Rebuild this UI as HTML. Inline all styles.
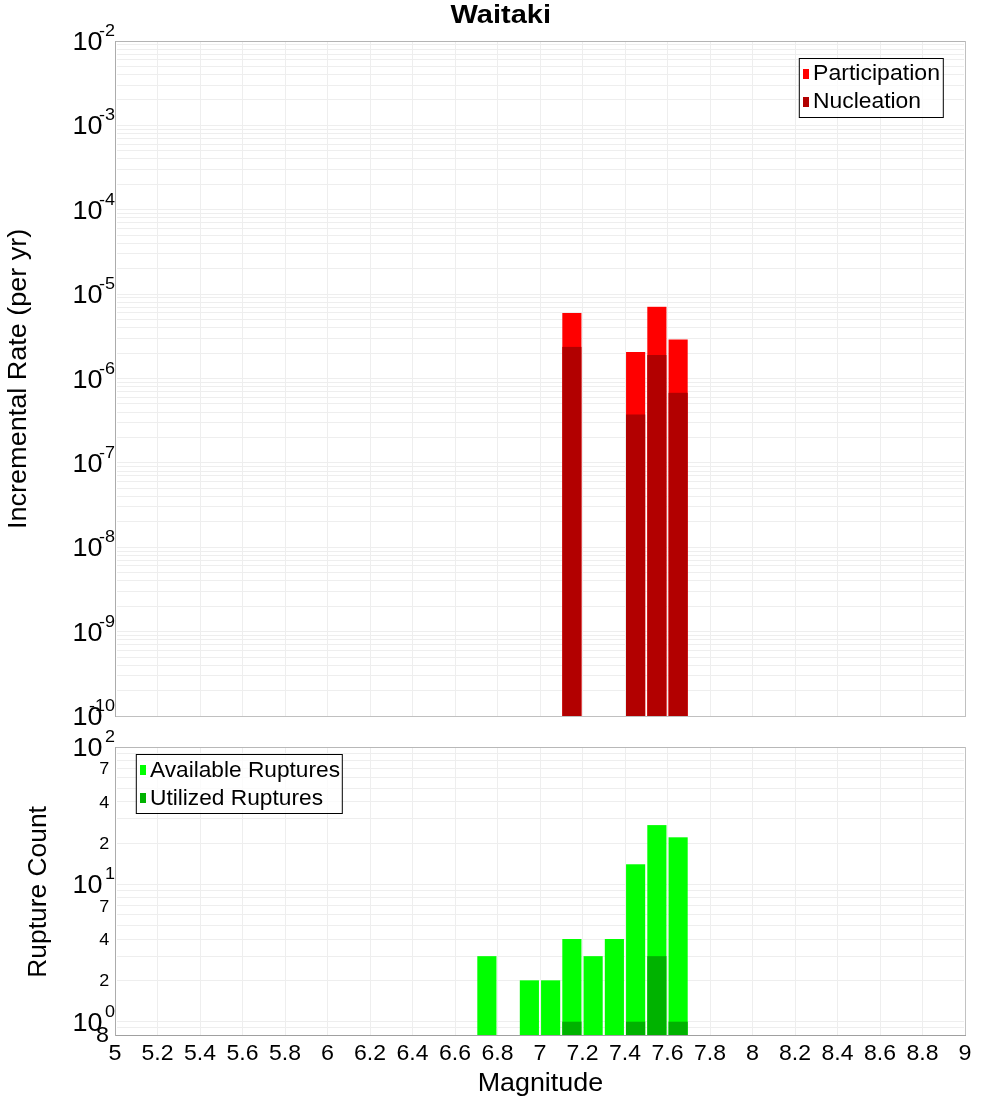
<!DOCTYPE html>
<html><head><meta charset="utf-8"><title>Waitaki</title>
<style>
html,body{margin:0;padding:0;background:#fff;}
body{width:1000px;height:1100px;overflow:hidden;}
svg{display:block;font-family:"Liberation Sans", sans-serif;will-change:transform;}
</style></head>
<body>
<svg width="1000" height="1100" viewBox="0 0 1000 1100">
<rect x="0" y="0" width="1000" height="1100" fill="#fff"/>
<line x1="117" y1="690.5" x2="964" y2="690.5" stroke="#eeeeee" stroke-width="1"/>
<line x1="117" y1="675.5" x2="964" y2="675.5" stroke="#eeeeee" stroke-width="1"/>
<line x1="117" y1="665.5" x2="964" y2="665.5" stroke="#eeeeee" stroke-width="1"/>
<line x1="117" y1="657.5" x2="964" y2="657.5" stroke="#eeeeee" stroke-width="1"/>
<line x1="117" y1="650.5" x2="964" y2="650.5" stroke="#eeeeee" stroke-width="1"/>
<line x1="117" y1="644.5" x2="964" y2="644.5" stroke="#eeeeee" stroke-width="1"/>
<line x1="117" y1="639.5" x2="964" y2="639.5" stroke="#eeeeee" stroke-width="1"/>
<line x1="117" y1="635.5" x2="964" y2="635.5" stroke="#eeeeee" stroke-width="1"/>
<line x1="117" y1="631.5" x2="964" y2="631.5" stroke="#eeeeee" stroke-width="1"/>
<line x1="117" y1="606.5" x2="964" y2="606.5" stroke="#eeeeee" stroke-width="1"/>
<line x1="117" y1="591.5" x2="964" y2="591.5" stroke="#eeeeee" stroke-width="1"/>
<line x1="117" y1="580.5" x2="964" y2="580.5" stroke="#eeeeee" stroke-width="1"/>
<line x1="117" y1="572.5" x2="964" y2="572.5" stroke="#eeeeee" stroke-width="1"/>
<line x1="117" y1="565.5" x2="964" y2="565.5" stroke="#eeeeee" stroke-width="1"/>
<line x1="117" y1="560.5" x2="964" y2="560.5" stroke="#eeeeee" stroke-width="1"/>
<line x1="117" y1="555.5" x2="964" y2="555.5" stroke="#eeeeee" stroke-width="1"/>
<line x1="117" y1="551.5" x2="964" y2="551.5" stroke="#eeeeee" stroke-width="1"/>
<line x1="117" y1="547.5" x2="964" y2="547.5" stroke="#eeeeee" stroke-width="1"/>
<line x1="117" y1="521.5" x2="964" y2="521.5" stroke="#eeeeee" stroke-width="1"/>
<line x1="117" y1="506.5" x2="964" y2="506.5" stroke="#eeeeee" stroke-width="1"/>
<line x1="117" y1="496.5" x2="964" y2="496.5" stroke="#eeeeee" stroke-width="1"/>
<line x1="117" y1="488.5" x2="964" y2="488.5" stroke="#eeeeee" stroke-width="1"/>
<line x1="117" y1="481.5" x2="964" y2="481.5" stroke="#eeeeee" stroke-width="1"/>
<line x1="117" y1="475.5" x2="964" y2="475.5" stroke="#eeeeee" stroke-width="1"/>
<line x1="117" y1="471.5" x2="964" y2="471.5" stroke="#eeeeee" stroke-width="1"/>
<line x1="117" y1="466.5" x2="964" y2="466.5" stroke="#eeeeee" stroke-width="1"/>
<line x1="117" y1="462.5" x2="964" y2="462.5" stroke="#eeeeee" stroke-width="1"/>
<line x1="117" y1="437.5" x2="964" y2="437.5" stroke="#eeeeee" stroke-width="1"/>
<line x1="117" y1="422.5" x2="964" y2="422.5" stroke="#eeeeee" stroke-width="1"/>
<line x1="117" y1="412.5" x2="964" y2="412.5" stroke="#eeeeee" stroke-width="1"/>
<line x1="117" y1="403.5" x2="964" y2="403.5" stroke="#eeeeee" stroke-width="1"/>
<line x1="117" y1="397.5" x2="964" y2="397.5" stroke="#eeeeee" stroke-width="1"/>
<line x1="117" y1="391.5" x2="964" y2="391.5" stroke="#eeeeee" stroke-width="1"/>
<line x1="117" y1="386.5" x2="964" y2="386.5" stroke="#eeeeee" stroke-width="1"/>
<line x1="117" y1="382.5" x2="964" y2="382.5" stroke="#eeeeee" stroke-width="1"/>
<line x1="117" y1="378.5" x2="964" y2="378.5" stroke="#eeeeee" stroke-width="1"/>
<line x1="117" y1="353.5" x2="964" y2="353.5" stroke="#eeeeee" stroke-width="1"/>
<line x1="117" y1="338.5" x2="964" y2="338.5" stroke="#eeeeee" stroke-width="1"/>
<line x1="117" y1="327.5" x2="964" y2="327.5" stroke="#eeeeee" stroke-width="1"/>
<line x1="117" y1="319.5" x2="964" y2="319.5" stroke="#eeeeee" stroke-width="1"/>
<line x1="117" y1="312.5" x2="964" y2="312.5" stroke="#eeeeee" stroke-width="1"/>
<line x1="117" y1="307.5" x2="964" y2="307.5" stroke="#eeeeee" stroke-width="1"/>
<line x1="117" y1="302.5" x2="964" y2="302.5" stroke="#eeeeee" stroke-width="1"/>
<line x1="117" y1="297.5" x2="964" y2="297.5" stroke="#eeeeee" stroke-width="1"/>
<line x1="117" y1="294.5" x2="964" y2="294.5" stroke="#eeeeee" stroke-width="1"/>
<line x1="117" y1="268.5" x2="964" y2="268.5" stroke="#eeeeee" stroke-width="1"/>
<line x1="117" y1="253.5" x2="964" y2="253.5" stroke="#eeeeee" stroke-width="1"/>
<line x1="117" y1="243.5" x2="964" y2="243.5" stroke="#eeeeee" stroke-width="1"/>
<line x1="117" y1="235.5" x2="964" y2="235.5" stroke="#eeeeee" stroke-width="1"/>
<line x1="117" y1="228.5" x2="964" y2="228.5" stroke="#eeeeee" stroke-width="1"/>
<line x1="117" y1="222.5" x2="964" y2="222.5" stroke="#eeeeee" stroke-width="1"/>
<line x1="117" y1="217.5" x2="964" y2="217.5" stroke="#eeeeee" stroke-width="1"/>
<line x1="117" y1="213.5" x2="964" y2="213.5" stroke="#eeeeee" stroke-width="1"/>
<line x1="117" y1="209.5" x2="964" y2="209.5" stroke="#eeeeee" stroke-width="1"/>
<line x1="117" y1="184.5" x2="964" y2="184.5" stroke="#eeeeee" stroke-width="1"/>
<line x1="117" y1="169.5" x2="964" y2="169.5" stroke="#eeeeee" stroke-width="1"/>
<line x1="117" y1="158.5" x2="964" y2="158.5" stroke="#eeeeee" stroke-width="1"/>
<line x1="117" y1="150.5" x2="964" y2="150.5" stroke="#eeeeee" stroke-width="1"/>
<line x1="117" y1="144.5" x2="964" y2="144.5" stroke="#eeeeee" stroke-width="1"/>
<line x1="117" y1="138.5" x2="964" y2="138.5" stroke="#eeeeee" stroke-width="1"/>
<line x1="117" y1="133.5" x2="964" y2="133.5" stroke="#eeeeee" stroke-width="1"/>
<line x1="117" y1="129.5" x2="964" y2="129.5" stroke="#eeeeee" stroke-width="1"/>
<line x1="117" y1="125.5" x2="964" y2="125.5" stroke="#eeeeee" stroke-width="1"/>
<line x1="117" y1="99.5" x2="964" y2="99.5" stroke="#eeeeee" stroke-width="1"/>
<line x1="117" y1="85.5" x2="964" y2="85.5" stroke="#eeeeee" stroke-width="1"/>
<line x1="117" y1="74.5" x2="964" y2="74.5" stroke="#eeeeee" stroke-width="1"/>
<line x1="117" y1="66.5" x2="964" y2="66.5" stroke="#eeeeee" stroke-width="1"/>
<line x1="117" y1="59.5" x2="964" y2="59.5" stroke="#eeeeee" stroke-width="1"/>
<line x1="117" y1="54.5" x2="964" y2="54.5" stroke="#eeeeee" stroke-width="1"/>
<line x1="117" y1="49.5" x2="964" y2="49.5" stroke="#eeeeee" stroke-width="1"/>
<line x1="117" y1="44.5" x2="964" y2="44.5" stroke="#eeeeee" stroke-width="1"/>
<line x1="117" y1="1027.5" x2="964" y2="1027.5" stroke="#eeeeee" stroke-width="1"/>
<line x1="117" y1="1021.5" x2="964" y2="1021.5" stroke="#eeeeee" stroke-width="1"/>
<line x1="117" y1="980.5" x2="964" y2="980.5" stroke="#eeeeee" stroke-width="1"/>
<line x1="117" y1="956.5" x2="964" y2="956.5" stroke="#eeeeee" stroke-width="1"/>
<line x1="117" y1="939.5" x2="964" y2="939.5" stroke="#eeeeee" stroke-width="1"/>
<line x1="117" y1="925.5" x2="964" y2="925.5" stroke="#eeeeee" stroke-width="1"/>
<line x1="117" y1="914.5" x2="964" y2="914.5" stroke="#eeeeee" stroke-width="1"/>
<line x1="117" y1="905.5" x2="964" y2="905.5" stroke="#eeeeee" stroke-width="1"/>
<line x1="117" y1="897.5" x2="964" y2="897.5" stroke="#eeeeee" stroke-width="1"/>
<line x1="117" y1="890.5" x2="964" y2="890.5" stroke="#eeeeee" stroke-width="1"/>
<line x1="117" y1="884.5" x2="964" y2="884.5" stroke="#eeeeee" stroke-width="1"/>
<line x1="117" y1="843.5" x2="964" y2="843.5" stroke="#eeeeee" stroke-width="1"/>
<line x1="117" y1="818.5" x2="964" y2="818.5" stroke="#eeeeee" stroke-width="1"/>
<line x1="117" y1="801.5" x2="964" y2="801.5" stroke="#eeeeee" stroke-width="1"/>
<line x1="117" y1="788.5" x2="964" y2="788.5" stroke="#eeeeee" stroke-width="1"/>
<line x1="117" y1="777.5" x2="964" y2="777.5" stroke="#eeeeee" stroke-width="1"/>
<line x1="117" y1="768.5" x2="964" y2="768.5" stroke="#eeeeee" stroke-width="1"/>
<line x1="117" y1="760.5" x2="964" y2="760.5" stroke="#eeeeee" stroke-width="1"/>
<line x1="117" y1="753.5" x2="964" y2="753.5" stroke="#eeeeee" stroke-width="1"/>
<line x1="157.5" y1="42" x2="157.5" y2="716" stroke="#eeeeee" stroke-width="1"/>
<line x1="157.5" y1="748" x2="157.5" y2="1035" stroke="#eeeeee" stroke-width="1"/>
<line x1="200.5" y1="42" x2="200.5" y2="716" stroke="#eeeeee" stroke-width="1"/>
<line x1="200.5" y1="748" x2="200.5" y2="1035" stroke="#eeeeee" stroke-width="1"/>
<line x1="242.5" y1="42" x2="242.5" y2="716" stroke="#eeeeee" stroke-width="1"/>
<line x1="242.5" y1="748" x2="242.5" y2="1035" stroke="#eeeeee" stroke-width="1"/>
<line x1="285.5" y1="42" x2="285.5" y2="716" stroke="#eeeeee" stroke-width="1"/>
<line x1="285.5" y1="748" x2="285.5" y2="1035" stroke="#eeeeee" stroke-width="1"/>
<line x1="327.5" y1="42" x2="327.5" y2="716" stroke="#eeeeee" stroke-width="1"/>
<line x1="327.5" y1="748" x2="327.5" y2="1035" stroke="#eeeeee" stroke-width="1"/>
<line x1="370.5" y1="42" x2="370.5" y2="716" stroke="#eeeeee" stroke-width="1"/>
<line x1="370.5" y1="748" x2="370.5" y2="1035" stroke="#eeeeee" stroke-width="1"/>
<line x1="412.5" y1="42" x2="412.5" y2="716" stroke="#eeeeee" stroke-width="1"/>
<line x1="412.5" y1="748" x2="412.5" y2="1035" stroke="#eeeeee" stroke-width="1"/>
<line x1="455.5" y1="42" x2="455.5" y2="716" stroke="#eeeeee" stroke-width="1"/>
<line x1="455.5" y1="748" x2="455.5" y2="1035" stroke="#eeeeee" stroke-width="1"/>
<line x1="497.5" y1="42" x2="497.5" y2="716" stroke="#eeeeee" stroke-width="1"/>
<line x1="497.5" y1="748" x2="497.5" y2="1035" stroke="#eeeeee" stroke-width="1"/>
<line x1="540.5" y1="42" x2="540.5" y2="716" stroke="#eeeeee" stroke-width="1"/>
<line x1="540.5" y1="748" x2="540.5" y2="1035" stroke="#eeeeee" stroke-width="1"/>
<line x1="582.5" y1="42" x2="582.5" y2="716" stroke="#eeeeee" stroke-width="1"/>
<line x1="582.5" y1="748" x2="582.5" y2="1035" stroke="#eeeeee" stroke-width="1"/>
<line x1="625.5" y1="42" x2="625.5" y2="716" stroke="#eeeeee" stroke-width="1"/>
<line x1="625.5" y1="748" x2="625.5" y2="1035" stroke="#eeeeee" stroke-width="1"/>
<line x1="667.5" y1="42" x2="667.5" y2="716" stroke="#eeeeee" stroke-width="1"/>
<line x1="667.5" y1="748" x2="667.5" y2="1035" stroke="#eeeeee" stroke-width="1"/>
<line x1="710.5" y1="42" x2="710.5" y2="716" stroke="#eeeeee" stroke-width="1"/>
<line x1="710.5" y1="748" x2="710.5" y2="1035" stroke="#eeeeee" stroke-width="1"/>
<line x1="752.5" y1="42" x2="752.5" y2="716" stroke="#eeeeee" stroke-width="1"/>
<line x1="752.5" y1="748" x2="752.5" y2="1035" stroke="#eeeeee" stroke-width="1"/>
<line x1="795.5" y1="42" x2="795.5" y2="716" stroke="#eeeeee" stroke-width="1"/>
<line x1="795.5" y1="748" x2="795.5" y2="1035" stroke="#eeeeee" stroke-width="1"/>
<line x1="837.5" y1="42" x2="837.5" y2="716" stroke="#eeeeee" stroke-width="1"/>
<line x1="837.5" y1="748" x2="837.5" y2="1035" stroke="#eeeeee" stroke-width="1"/>
<line x1="880.5" y1="42" x2="880.5" y2="716" stroke="#eeeeee" stroke-width="1"/>
<line x1="880.5" y1="748" x2="880.5" y2="1035" stroke="#eeeeee" stroke-width="1"/>
<line x1="922.5" y1="42" x2="922.5" y2="716" stroke="#eeeeee" stroke-width="1"/>
<line x1="922.5" y1="748" x2="922.5" y2="1035" stroke="#eeeeee" stroke-width="1"/>
<rect x="562.31" y="313.00" width="19.13" height="403.00" fill="#ff0000"/>
<rect x="562.31" y="346.90" width="19.13" height="369.10" fill="#b20000"/>
<rect x="626.06" y="352.00" width="19.13" height="364.00" fill="#ff0000"/>
<rect x="626.06" y="414.50" width="19.13" height="301.50" fill="#b20000"/>
<rect x="647.31" y="306.80" width="19.13" height="409.20" fill="#ff0000"/>
<rect x="647.31" y="355.00" width="19.13" height="361.00" fill="#b20000"/>
<rect x="668.56" y="339.50" width="19.13" height="376.50" fill="#ff0000"/>
<rect x="668.56" y="392.80" width="19.13" height="323.20" fill="#b20000"/>
<rect x="477.31" y="956.16" width="19.13" height="78.84" fill="#00ff00"/>
<rect x="519.81" y="980.34" width="19.13" height="54.66" fill="#00ff00"/>
<rect x="541.06" y="980.34" width="19.13" height="54.66" fill="#00ff00"/>
<rect x="562.31" y="939.00" width="19.13" height="96.00" fill="#00ff00"/>
<rect x="583.56" y="956.16" width="19.13" height="78.84" fill="#00ff00"/>
<rect x="604.81" y="939.00" width="19.13" height="96.00" fill="#00ff00"/>
<rect x="626.06" y="864.28" width="19.13" height="170.72" fill="#00ff00"/>
<rect x="647.31" y="825.10" width="19.13" height="209.90" fill="#00ff00"/>
<rect x="668.56" y="837.31" width="19.13" height="197.69" fill="#00ff00"/>
<rect x="562.31" y="1021.69" width="19.13" height="13.31" fill="#00b200"/>
<rect x="626.06" y="1021.69" width="19.13" height="13.31" fill="#00b200"/>
<rect x="647.31" y="956.16" width="19.13" height="78.84" fill="#00b200"/>
<rect x="668.56" y="1021.69" width="19.13" height="13.31" fill="#00b200"/>
<line x1="115" y1="41.5" x2="966" y2="41.5" stroke="#b4b4b4"/>
<line x1="965.5" y1="41" x2="965.5" y2="717" stroke="#c0c0c0"/>
<line x1="115" y1="716.5" x2="966" y2="716.5" stroke="#c0c0c0"/>
<line x1="115.5" y1="41" x2="115.5" y2="717" stroke="#acacac"/>
<line x1="115" y1="747.5" x2="966" y2="747.5" stroke="#b8b8b8"/>
<line x1="965.5" y1="747" x2="965.5" y2="1036" stroke="#c2c2c2"/>
<line x1="115" y1="1035.5" x2="966" y2="1035.5" stroke="#a0a0a0"/>
<line x1="115.5" y1="747" x2="115.5" y2="1036" stroke="#acacac"/>
<rect x="799.3" y="58.5" width="144" height="59" fill="rgba(255,255,255,0.78)" stroke="#000" stroke-width="1"/>
<rect x="803" y="69" width="6" height="10" fill="#ff0000"/>
<text x="813.00" y="80.00" font-size="21.20" text-anchor="start" textLength="127.00" lengthAdjust="spacingAndGlyphs" fill="#000">Participation</text>
<rect x="803" y="97" width="6" height="10" fill="#b20000"/>
<text x="813.00" y="108.00" font-size="21.20" text-anchor="start" textLength="108.00" lengthAdjust="spacingAndGlyphs" fill="#000">Nucleation</text>
<rect x="136.3" y="754.5" width="206" height="59" fill="rgba(255,255,255,0.78)" stroke="#000" stroke-width="1"/>
<rect x="140" y="765" width="6" height="10" fill="#00ff00"/>
<text x="150.00" y="777.00" font-size="21.20" text-anchor="start" textLength="190.00" lengthAdjust="spacingAndGlyphs" fill="#000">Available Ruptures</text>
<rect x="140" y="793" width="6" height="10" fill="#00b200"/>
<text x="150.00" y="805.00" font-size="21.20" text-anchor="start" textLength="173.00" lengthAdjust="spacingAndGlyphs" fill="#000">Utilized Ruptures</text>
<text x="500.80" y="23.00" font-size="25.44" font-weight="bold" text-anchor="middle" textLength="100.50" lengthAdjust="spacingAndGlyphs" fill="#000">Waitaki</text>
<text x="72.40" y="50.00" font-size="25.44" text-anchor="start" textLength="30.00" lengthAdjust="spacingAndGlyphs" fill="#000">10</text>
<text x="115.00" y="36.00" font-size="16.96" text-anchor="end" textLength="16.00" lengthAdjust="spacingAndGlyphs" fill="#000">-2</text>
<text x="72.40" y="134.38" font-size="25.44" text-anchor="start" textLength="30.00" lengthAdjust="spacingAndGlyphs" fill="#000">10</text>
<text x="115.00" y="120.38" font-size="16.96" text-anchor="end" textLength="16.00" lengthAdjust="spacingAndGlyphs" fill="#000">-3</text>
<text x="72.40" y="218.75" font-size="25.44" text-anchor="start" textLength="30.00" lengthAdjust="spacingAndGlyphs" fill="#000">10</text>
<text x="115.00" y="204.75" font-size="16.96" text-anchor="end" textLength="16.00" lengthAdjust="spacingAndGlyphs" fill="#000">-4</text>
<text x="72.40" y="303.12" font-size="25.44" text-anchor="start" textLength="30.00" lengthAdjust="spacingAndGlyphs" fill="#000">10</text>
<text x="115.00" y="289.12" font-size="16.96" text-anchor="end" textLength="16.00" lengthAdjust="spacingAndGlyphs" fill="#000">-5</text>
<text x="72.40" y="387.50" font-size="25.44" text-anchor="start" textLength="30.00" lengthAdjust="spacingAndGlyphs" fill="#000">10</text>
<text x="115.00" y="373.50" font-size="16.96" text-anchor="end" textLength="16.00" lengthAdjust="spacingAndGlyphs" fill="#000">-6</text>
<text x="72.40" y="471.88" font-size="25.44" text-anchor="start" textLength="30.00" lengthAdjust="spacingAndGlyphs" fill="#000">10</text>
<text x="115.00" y="457.88" font-size="16.96" text-anchor="end" textLength="16.00" lengthAdjust="spacingAndGlyphs" fill="#000">-7</text>
<text x="72.40" y="556.25" font-size="25.44" text-anchor="start" textLength="30.00" lengthAdjust="spacingAndGlyphs" fill="#000">10</text>
<text x="115.00" y="542.25" font-size="16.96" text-anchor="end" textLength="16.00" lengthAdjust="spacingAndGlyphs" fill="#000">-8</text>
<text x="72.40" y="640.62" font-size="25.44" text-anchor="start" textLength="30.00" lengthAdjust="spacingAndGlyphs" fill="#000">10</text>
<text x="115.00" y="626.62" font-size="16.96" text-anchor="end" textLength="16.00" lengthAdjust="spacingAndGlyphs" fill="#000">-9</text>
<text x="72.40" y="725.00" font-size="25.44" text-anchor="start" textLength="30.00" lengthAdjust="spacingAndGlyphs" fill="#000">10</text>
<text x="115.00" y="711.00" font-size="16.96" text-anchor="end" textLength="26.00" lengthAdjust="spacingAndGlyphs" fill="#000">-10</text>
<text x="72.40" y="1030.69" font-size="25.44" text-anchor="start" textLength="30.00" lengthAdjust="spacingAndGlyphs" fill="#000">10</text>
<text x="115.00" y="1016.69" font-size="16.96" text-anchor="end" textLength="10.00" lengthAdjust="spacingAndGlyphs" fill="#000">0</text>
<text x="72.40" y="893.34" font-size="25.44" text-anchor="start" textLength="30.00" lengthAdjust="spacingAndGlyphs" fill="#000">10</text>
<text x="115.00" y="879.34" font-size="16.96" text-anchor="end" textLength="10.00" lengthAdjust="spacingAndGlyphs" fill="#000">1</text>
<text x="72.40" y="756.00" font-size="25.44" text-anchor="start" textLength="30.00" lengthAdjust="spacingAndGlyphs" fill="#000">10</text>
<text x="115.00" y="742.00" font-size="16.96" text-anchor="end" textLength="10.00" lengthAdjust="spacingAndGlyphs" fill="#000">2</text>
<text x="109.30" y="986.34" font-size="16.96" text-anchor="end" textLength="10.00" lengthAdjust="spacingAndGlyphs" fill="#000">2</text>
<text x="109.30" y="945.00" font-size="16.96" text-anchor="end" textLength="10.00" lengthAdjust="spacingAndGlyphs" fill="#000">4</text>
<text x="109.30" y="911.62" font-size="16.96" text-anchor="end" textLength="10.00" lengthAdjust="spacingAndGlyphs" fill="#000">7</text>
<text x="109.30" y="849.00" font-size="16.96" text-anchor="end" textLength="10.00" lengthAdjust="spacingAndGlyphs" fill="#000">2</text>
<text x="109.30" y="807.66" font-size="16.96" text-anchor="end" textLength="10.00" lengthAdjust="spacingAndGlyphs" fill="#000">4</text>
<text x="109.30" y="774.28" font-size="16.96" text-anchor="end" textLength="10.00" lengthAdjust="spacingAndGlyphs" fill="#000">7</text>
<text x="109.10" y="1041.70" font-size="21.20" text-anchor="end" textLength="13.00" lengthAdjust="spacingAndGlyphs" fill="#000">8</text>
<text x="115.00" y="1060.00" font-size="21.20" text-anchor="middle" textLength="13.00" lengthAdjust="spacingAndGlyphs" fill="#000">5</text>
<text x="157.50" y="1060.00" font-size="21.20" text-anchor="middle" textLength="32.00" lengthAdjust="spacingAndGlyphs" fill="#000">5.2</text>
<text x="200.00" y="1060.00" font-size="21.20" text-anchor="middle" textLength="32.00" lengthAdjust="spacingAndGlyphs" fill="#000">5.4</text>
<text x="242.50" y="1060.00" font-size="21.20" text-anchor="middle" textLength="32.00" lengthAdjust="spacingAndGlyphs" fill="#000">5.6</text>
<text x="285.00" y="1060.00" font-size="21.20" text-anchor="middle" textLength="32.00" lengthAdjust="spacingAndGlyphs" fill="#000">5.8</text>
<text x="327.50" y="1060.00" font-size="21.20" text-anchor="middle" textLength="13.00" lengthAdjust="spacingAndGlyphs" fill="#000">6</text>
<text x="370.00" y="1060.00" font-size="21.20" text-anchor="middle" textLength="32.00" lengthAdjust="spacingAndGlyphs" fill="#000">6.2</text>
<text x="412.50" y="1060.00" font-size="21.20" text-anchor="middle" textLength="32.00" lengthAdjust="spacingAndGlyphs" fill="#000">6.4</text>
<text x="455.00" y="1060.00" font-size="21.20" text-anchor="middle" textLength="32.00" lengthAdjust="spacingAndGlyphs" fill="#000">6.6</text>
<text x="497.50" y="1060.00" font-size="21.20" text-anchor="middle" textLength="32.00" lengthAdjust="spacingAndGlyphs" fill="#000">6.8</text>
<text x="540.00" y="1060.00" font-size="21.20" text-anchor="middle" textLength="13.00" lengthAdjust="spacingAndGlyphs" fill="#000">7</text>
<text x="582.50" y="1060.00" font-size="21.20" text-anchor="middle" textLength="32.00" lengthAdjust="spacingAndGlyphs" fill="#000">7.2</text>
<text x="625.00" y="1060.00" font-size="21.20" text-anchor="middle" textLength="32.00" lengthAdjust="spacingAndGlyphs" fill="#000">7.4</text>
<text x="667.50" y="1060.00" font-size="21.20" text-anchor="middle" textLength="32.00" lengthAdjust="spacingAndGlyphs" fill="#000">7.6</text>
<text x="710.00" y="1060.00" font-size="21.20" text-anchor="middle" textLength="32.00" lengthAdjust="spacingAndGlyphs" fill="#000">7.8</text>
<text x="752.50" y="1060.00" font-size="21.20" text-anchor="middle" textLength="13.00" lengthAdjust="spacingAndGlyphs" fill="#000">8</text>
<text x="795.00" y="1060.00" font-size="21.20" text-anchor="middle" textLength="32.00" lengthAdjust="spacingAndGlyphs" fill="#000">8.2</text>
<text x="837.50" y="1060.00" font-size="21.20" text-anchor="middle" textLength="32.00" lengthAdjust="spacingAndGlyphs" fill="#000">8.4</text>
<text x="880.00" y="1060.00" font-size="21.20" text-anchor="middle" textLength="32.00" lengthAdjust="spacingAndGlyphs" fill="#000">8.6</text>
<text x="922.50" y="1060.00" font-size="21.20" text-anchor="middle" textLength="32.00" lengthAdjust="spacingAndGlyphs" fill="#000">8.8</text>
<text x="965.00" y="1060.00" font-size="21.20" text-anchor="middle" textLength="13.00" lengthAdjust="spacingAndGlyphs" fill="#000">9</text>
<text x="540.40" y="1091.00" font-size="25.44" text-anchor="middle" textLength="125.50" lengthAdjust="spacingAndGlyphs" fill="#000">Magnitude</text>
<text x="0.00" y="0.00" font-size="25.44" text-anchor="middle" textLength="300.30" lengthAdjust="spacingAndGlyphs" fill="#000" transform="translate(26,378.8) rotate(-90)">Incremental Rate (per yr)</text>
<text x="0.00" y="0.00" font-size="25.44" text-anchor="middle" textLength="171.60" lengthAdjust="spacingAndGlyphs" fill="#000" transform="translate(46.2,891.9) rotate(-90)">Rupture Count</text>
</svg>
</body></html>
